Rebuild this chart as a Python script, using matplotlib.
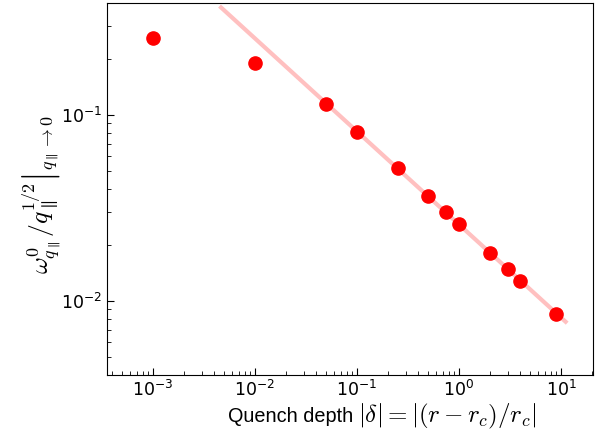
import matplotlib
matplotlib.use("Agg")
import matplotlib.pyplot as plt

depth = [1e-3, 1e-2, 0.05, 0.1, 0.25, 0.5, 0.75, 1.0, 2.0, 3.0, 4.0, 9.0]
omega = [0.258, 0.19, 0.114, 0.081, 0.0519, 0.0367, 0.030, 0.0258, 0.0182, 0.0149, 0.0128, 0.0085]

fit_x = [0.0045, 11.5]
fit_y = [0.385, 0.0076]

fig = plt.figure(figsize=(6.0, 4.36), dpi=100)
ax = fig.add_axes([107/600, 1-375/436, (593-107)/600, (375-3)/436])

ax.plot(fit_x, fit_y, '-', color='#ffc0c0', lw=3, solid_capstyle='butt', zorder=1)
ax.plot(depth, omega, 'o', color='red', ms=9.5, mec='red', zorder=2)

ax.set_xscale('log')
ax.set_yscale('log')
ax.set_xlim(3.55e-4, 20.6)
ax.set_ylim(0.004, 0.4)

ax.tick_params(which='both', direction='in', top=False, right=False, labelsize=12.5)
ax.tick_params(which='major', length=5)
ax.tick_params(which='minor', length=2.7)

fig.text(228/600, 1-422/436, 'Quench depth', fontsize=14.3, family='Liberation Sans',
         ha='left', va='baseline')
fig.text(358/600, 1-422/436, r'$|\delta|=|(r-r_c)/r_c|$', fontsize=18, math_fontfamily='cm',
         ha='left', va='baseline')

ax.set_ylabel(r'$\left.\omega^0_{q_\parallel}/q_\parallel^{1/2}\right|_{q_\parallel\to 0}$',
              fontsize=18.5, math_fontfamily='cm')
ax.yaxis.set_label_coords(-0.091, 0.484)

fig.savefig('out.png', dpi=100)
